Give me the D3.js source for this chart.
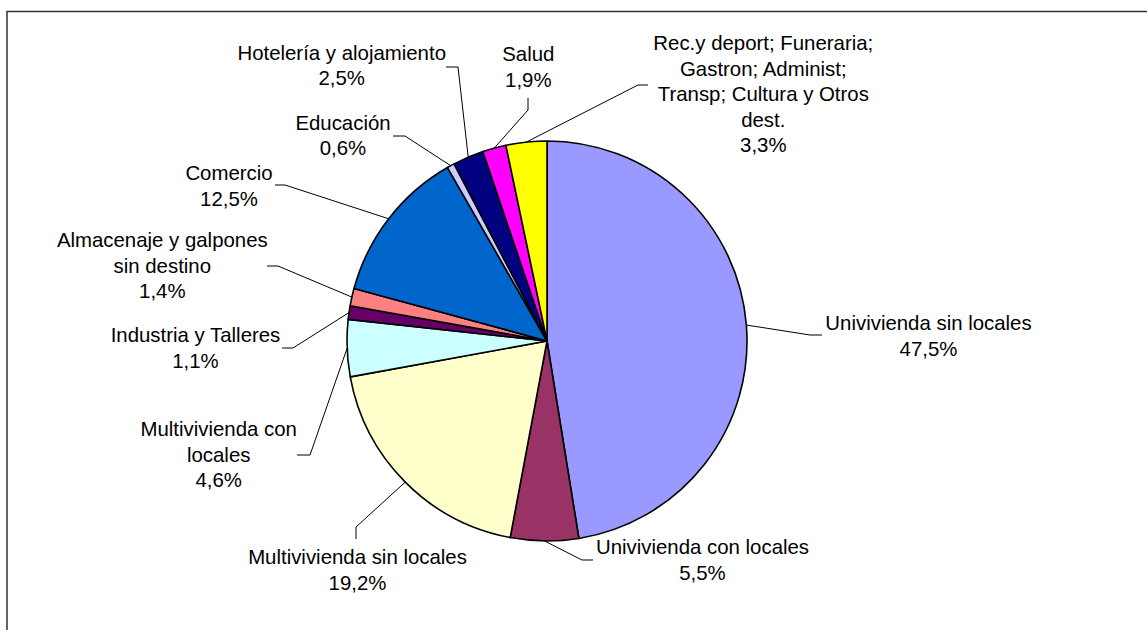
<!DOCTYPE html>
<html>
<head>
<meta charset="utf-8">
<script src="https://cdn.jsdelivr.net/npm/d3@7"></script>
<style>
html,body{margin:0;padding:0;background:#fff;}
svg{display:block;}
</style>
</head>
<body>
<svg id="chart" width="1147" height="630"></svg>
<script>
// ---- data ----
const categories = [
  "Univivienda sin locales",
  "Univivienda con locales",
  "Multivivienda sin locales",
  "Multivivienda con locales",
  "Industria y Talleres",
  "Almacenaje y galpones sin destino",
  "Comercio",
  "Educación",
  "Hotelería y alojamiento",
  "Salud",
  "Rec.y deport; Funeraria; Gastron; Administ; Transp; Cultura y Otros dest."
];
const values = [47.5, 5.5, 19.2, 4.6, 1.1, 1.4, 12.5, 0.6, 2.5, 1.9, 3.3];
const labelLines = [
  ["Univivienda sin locales"],
  ["Univivienda con locales"],
  ["Multivivienda sin locales"],
  ["Multivivienda con", "locales"],
  ["Industria y Talleres"],
  ["Almacenaje y galpones", "sin destino"],
  ["Comercio"],
  ["Educación"],
  ["Hotelería y alojamiento"],
  ["Salud"],
  ["Rec.y deport; Funeraria;", "Gastron; Administ;", "Transp; Cultura y Otros", "dest."]
];
const colors = ["#9999FF","#993366","#FFFFCC","#CCFFFF","#660066","#FF8080",
                "#0066CC","#CCCCFF","#000080","#FF00FF","#FFFF00"];

// ---- layout (label placement) ----
const labelLayout = [
  {x:928.5, y:330,  elbow:[810,335], end:[822,335]},
  {x:702.5, y:554,  elbow:[582,560], end:[593,560]},
  {x:357.5, y:564,  elbow:[356,527], end:[356,539]},
  {x:218.7, y:436,  elbow:[310,455], end:[297,455]},
  {x:195.5, y:342,  elbow:[293,348], end:[282,348]},
  {x:162.3, y:247,  elbow:[278,266], end:[267,266]},
  {x:229,   y:180,  elbow:[285,185], end:[275,185]},
  {x:343,   y:129.5,elbow:[405,136], end:[393,136]},
  {x:341.7, y:59.5, elbow:[458,67],  end:[446,67]},
  {x:528.3, y:61,   elbow:[528,110], end:[528,98]},
  {x:763.3, y:50,   elbow:[638,85],  end:[648,85]}
];

const cx = 547, cy = 341, R = 200;
const fontSize = 20.4, lineH = 25.5;
const fmt = v => d3.format(".1f")(v).replace(".", ",") + "%";

const svg = d3.select("#chart");

// frame
svg.append("rect")
  .attr("x", 7).attr("y", 11.5)
  .attr("width", 1400).attr("height", 900)
  .attr("fill", "#fff").attr("stroke", "#333").attr("stroke-width", 1.5);

const pie = d3.pie().sort(null).value(d => d).startAngle(0).endAngle(2*Math.PI);
const arcs = pie(values);
const arc = d3.arc().innerRadius(0).outerRadius(R);

const g = svg.append("g").attr("transform", `translate(${cx},${cy})`);
g.selectAll("path.slice").data(arcs).enter().append("path")
  .attr("class", "slice")
  .attr("d", arc)
  .attr("fill", (d,i) => colors[i])
  .attr("stroke", "#000")
  .attr("stroke-width", 1.6)
  .attr("stroke-linejoin", "round");

// leader lines
const line = d3.line();
arcs.forEach((a, i) => {
  const mid = (a.startAngle + a.endAngle) / 2;
  const sx = cx + R * Math.sin(mid), sy = cy - R * Math.cos(mid);
  const L = labelLayout[i];
  svg.append("path")
    .attr("d", line([[sx, sy], L.elbow, L.end]))
    .attr("fill", "none").attr("stroke", "#000").attr("stroke-width", 1);
});

// labels
arcs.forEach((a, i) => {
  const L = labelLayout[i];
  const lines = labelLines[i].concat([fmt(values[i])]);
  const t = svg.append("text")
    .attr("x", L.x).attr("y", L.y)
    .attr("text-anchor", "middle")
    .attr("font-family", "'Liberation Sans', Arial, sans-serif")
    .attr("font-size", fontSize)
    .attr("fill", "#000");
  lines.forEach((s, k) => {
    t.append("tspan").attr("x", L.x).attr("y", L.y + k * lineH).text(s);
  });
});
</script>
</body>
</html>
